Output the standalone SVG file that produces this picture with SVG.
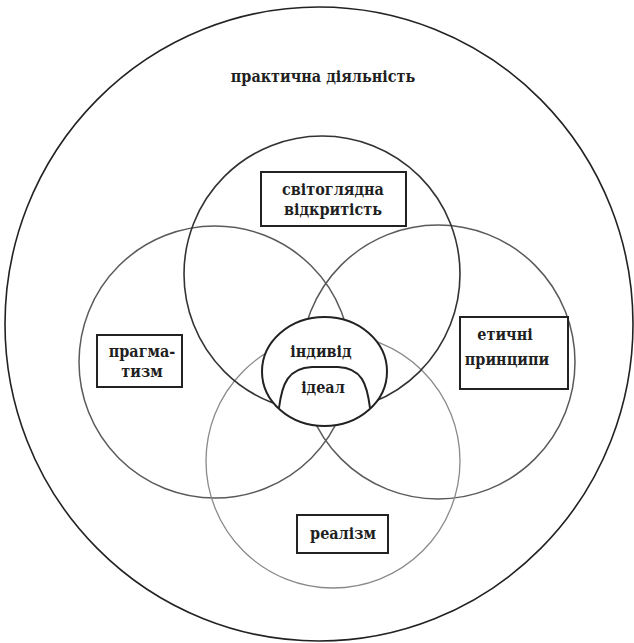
<svg xmlns="http://www.w3.org/2000/svg" width="634" height="643" viewBox="0 0 634 643">
<style>
  .ring { fill: none; }
  .box { fill: #ffffff; stroke: #222222; stroke-width: 2; }
  .lbl { font-family: "DejaVu Serif Condensed", "DejaVu Serif", "Liberation Serif", serif; font-size: 16px; font-weight: bold; fill: #1f1f1f; text-anchor: middle; }
</style>
<rect width="634" height="643" fill="#ffffff"/>
<g id="practice">
  <ellipse class="ring" cx="319" cy="324" rx="314" ry="317" stroke="#222222" stroke-width="1.6"/>
  <text class="lbl" x="323" y="82">практична діяльність</text>
</g>
<g id="pragmatism-circle">
  <circle class="ring" cx="215" cy="362" r="136" stroke="#5a5a5a" stroke-width="1.5"/>
</g>
<g id="ethics-circle">
  <circle class="ring" cx="438" cy="362" r="137" stroke="#5a5a5a" stroke-width="1.5"/>
</g>
<g id="realism-circle">
  <circle class="ring" cx="333" cy="461" r="127" stroke="#8a8a8a" stroke-width="1.3"/>
</g>
<g id="worldview-circle">
  <circle class="ring" cx="322" cy="274" r="138" stroke="#333333" stroke-width="1.6"/>
</g>
<g id="connectors"></g>
<g id="worldview">
  <rect class="box" x="261" y="172" width="145" height="54"/>
  <text class="lbl" x="333" y="195">світоглядна</text>
  <text class="lbl" x="333" y="215">відкритість</text>
</g>
<g id="pragmatism">
  <rect class="box" x="97" y="335" width="85" height="52"/>
  <text class="lbl" x="142" y="357">прагма-</text>
  <text class="lbl" x="142" y="377">тизм</text>
</g>
<g id="ethics">
  <rect class="box" x="460" y="317" width="108" height="72"/>
  <text class="lbl" x="505" y="340">етичні</text>
  <text class="lbl" x="507" y="365">принципи</text>
</g>
<g id="realism">
  <rect class="box" x="297" y="515" width="91" height="38"/>
  <text class="lbl" x="343" y="539">реалізм</text>
</g>
<g id="individual">
  <ellipse cx="324.5" cy="371.5" rx="62.5" ry="54.5" fill="#ffffff" stroke="#222222" stroke-width="2"/>
  <text class="lbl" x="321" y="357">індивід</text>
</g>
<g id="ideal">
  <path d="M 279 408 C 282 384 288 368 312 367 L 338 367 C 362 368 367 384 370 408" fill="none" stroke="#222222" stroke-width="2"/>
  <text class="lbl" x="323" y="393">ідеал</text>
</g>
</svg>
